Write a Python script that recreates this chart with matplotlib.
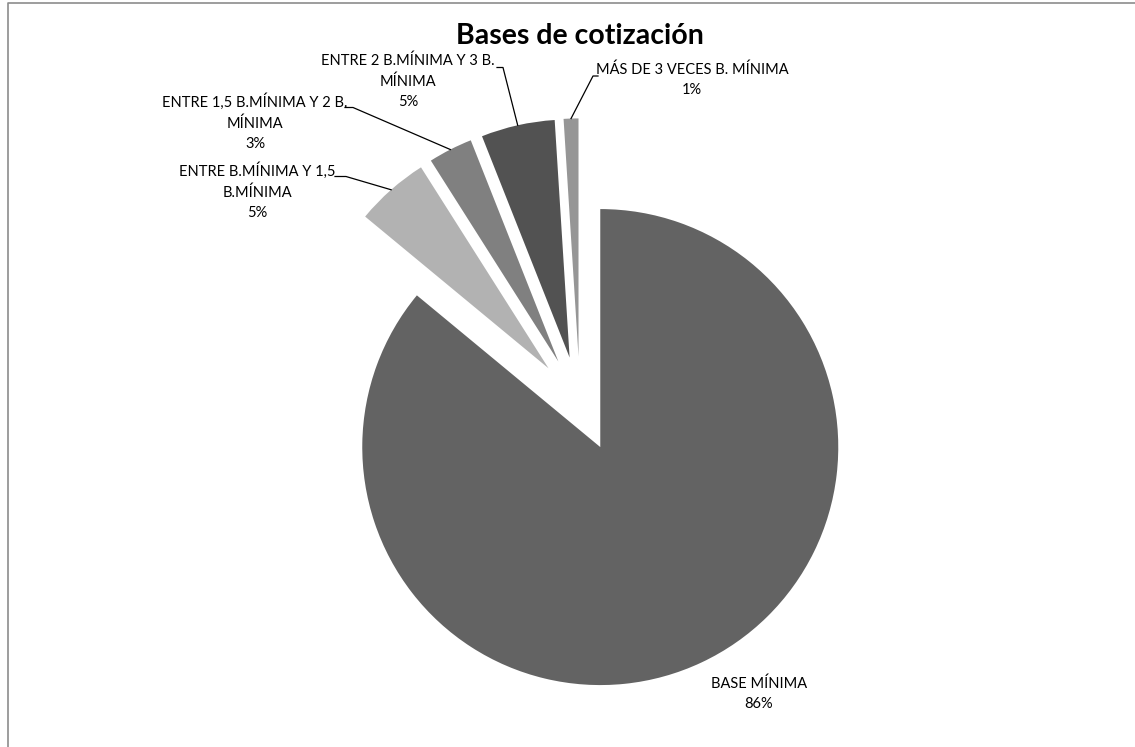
import numpy as np
import matplotlib.pyplot as plt

# Bases de cotización
categorias = ['BASE MÍNIMA', 'ENTRE B.MÍNIMA Y 1,5\nB.MÍNIMA', 'ENTRE 1,5 B.MÍNIMA Y 2 B.\nMÍNIMA',
              'ENTRE 2 B.MÍNIMA Y 3 B.\nMÍNIMA', 'MÁS DE 3 VECES B. MÍNIMA']
porcentajes = [86, 5, 3, 5, 1]
colores = ['#636363', '#b2b2b2', '#808080', '#525252', '#969696']

W, H = 1135, 747
R = 238.0          # radio en pixeles
CX, CY = 580, 404  # centro de la tarta en pixeles

plt.rcParams['font.family'] = ['Lato', 'DejaVu Sans']

fig = plt.figure(figsize=(W / 100, H / 100), dpi=100)
ax = fig.add_axes([0, 0, 1, 1])

def px(x, y):
    # pixel de imagen -> coordenadas de datos
    return (x - CX) / R, (CY - y) / R

expl = 0.2
wedges, _ = ax.pie(porcentajes, colors=colores, startangle=90, counterclock=False,
                   explode=[expl] * len(porcentajes), radius=1.0,
                   wedgeprops=dict(linewidth=0))
ax.set_xlim(-CX / R, (W - CX) / R)
ax.set_ylim((CY - H) / R, CY / R)
ax.set_aspect('auto')
ax.axis('off')

# marco del grafico (solo se ven los bordes izquierdo y superior)
mx0, my0 = px(7.5, H + 5)
mx1, my1 = px(7.5, 3.5)
mx2, _ = px(W + 5, 3.5)
ax.plot([mx0, mx1, mx2], [my0, my1, my1], color='#8c8c8c', linewidth=1.2, clip_on=True)

fig.text(580 / W, 1 - 36 / H, 'Bases de cotización', ha='center', va='center',
         fontsize=20.5, fontweight='bold')

# centro del texto (x, primera linea) y codo de la linea guia
etiquetas = [
    (759, 686, None),
    (257, 172.5, (335, 346)),
    (255, 103.5, (345, 353)),
    (408, 63.5, (497, 503)),
    (692, 72, (598, 593)),
]

for w, cat, p, (tx, ty, codo) in zip(wedges, categorias, porcentajes, etiquetas):
    txt = f'{cat}\n{p}%'
    fig.text(tx / W, 1 - (ty - 10) / H, txt, ha='center', va='top', fontsize=10.5,
             linespacing=1.55)
    if codo is None:
        continue
    th = np.deg2rad((w.theta1 + w.theta2) / 2)
    ox, oy = w.center
    ex, ey = ox + w.r * np.cos(th), oy + w.r * np.sin(th)
    x0, y0 = px(codo[0], ty + 4)
    x1, y1 = px(codo[1], ty + 4)
    ax.plot([x0, x1, ex], [y0, y1, ey], color='black', linewidth=0.9)

fig.savefig('out.png', dpi=100)
